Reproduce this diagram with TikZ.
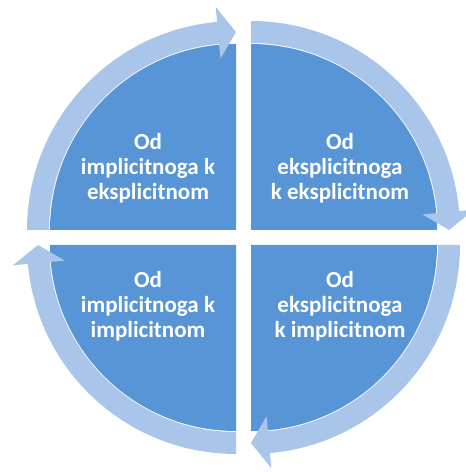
\documentclass[tikz,border=0pt]{standalone}
\usepackage{fontspec}
\setmainfont{Carlito}
\usetikzlibrary{calc}
\definecolor{quadblue}{RGB}{88,149,214}
\definecolor{bandblue}{RGB}{170,197,234}
\tikzset{
  quad/.style={fill=quadblue},
  band/.style={fill=bandblue},
  lbl/.style={text=white, font=\bfseries\fontsize{23}{25}\selectfont, align=center, inner sep=0pt}
}
\begin{document}
\begin{tikzpicture}[x=1pt,y=1pt]
\useasboundingbox (0,0) rectangle (466,472);
\pgfmathsetmacro{\ri}{187}
\pgfmathsetmacro{\ro}{209}
\pgfmathsetmacro{\rc}{198}
\pgfmathsetmacro{\hw}{26}
\pgfmathsetmacro{\ha}{5.2}
\foreach \cx/\cy/\s in {236/242/180, 251/242/90, 251/227/0, 236/227/270}{
  \begin{scope}[shift={(\cx pt,\cy pt)}]
    \pgfmathsetmacro{\e}{\s-90}
    \pgfmathsetmacro{\b}{\s-90+\ha}
    \fill[quad] (0,0) -- (\s:186pt) arc[start angle=\s, end angle=\e, radius=186pt] -- cycle;
    \fill[band] (\s:\ro pt) arc[start angle=\s, end angle=\b, radius=\ro pt]
      -- (\b:\rc pt+\hw pt) -- (\e:\rc pt) -- (\b:\rc pt-\hw pt)
      -- (\b:\ri pt) arc[start angle=\b, end angle=\s, radius=\ri pt] -- cycle;
  \end{scope}
}
\node[lbl] (tl) at (148,304) {Od\\implicitnoga k\\eksplicitnom};
\node[lbl] (tr) at (340,304) {Od\\eksplicitnoga\\k eksplicitnom};
\node[lbl] (bl) at (148,166) {Od\\implicitnoga k\\implicitnom};
\node[lbl] (br) at (340,166) {Od\\eksplicitnoga\\k implicitnom};
\end{tikzpicture}
\end{document}
